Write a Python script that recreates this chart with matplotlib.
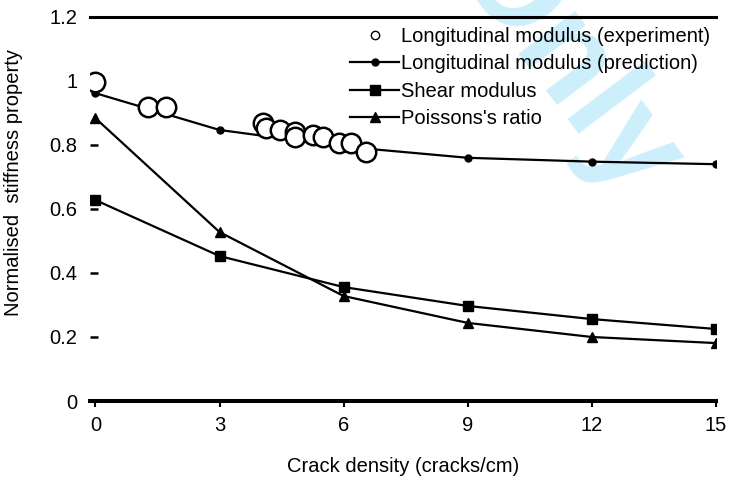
import numpy as np
import matplotlib
matplotlib.use('Agg')
import matplotlib.pyplot as plt

plt.rcParams['font.family'] = ['Liberation Sans', 'DejaVu Sans']

# crack density (cracks/cm) for the model predictions
crack_density = [0, 3, 6, 9, 12, 15]
long_pred = [0.962, 0.847, 0.795, 0.760, 0.748, 0.740]
shear_mod = [0.628, 0.453, 0.356, 0.297, 0.256, 0.225]
poisson = [0.884, 0.528, 0.328, 0.244, 0.200, 0.181]

# experimental longitudinal modulus
exp_x = [0.0, 1.28, 1.71, 4.05, 4.12, 4.46, 4.82, 4.82, 5.25, 5.5, 5.9, 6.19, 6.55]
exp_y = [0.998, 0.919, 0.919, 0.869, 0.853, 0.847, 0.840, 0.825, 0.831, 0.825, 0.806, 0.806, 0.778]

x_ticks = [0, 3, 6, 9, 12, 15]
y_ticks = [0, 0.2, 0.4, 0.6, 0.8, 1.0, 1.2]
y_tick_labels = ['0', '0.2', '0.4', '0.6', '0.8', '1', '1.2']

fs = 14.5

fig = plt.figure(figsize=(7.34, 4.86), dpi=100)
ax = fig.add_axes([90 / 734, 85 / 486, 626 / 734, 384 / 486])
ax.patch.set_visible(False)

ax.plot(exp_x, exp_y, linestyle='none', marker='o', markersize=14,
        markerfacecolor='white', markeredgecolor='black', markeredgewidth=1.8,
        zorder=4, label='Longitudinal modulus (experiment)')
ax.plot(crack_density, long_pred, color='black', linewidth=1.6, marker='o',
        markersize=5, zorder=3, label='Longitudinal modulus (prediction)')
ax.plot(crack_density, shear_mod, color='black', linewidth=1.6, marker='s',
        markersize=7, zorder=3, label='Shear modulus')
ax.plot(crack_density, poisson, color='black', linewidth=1.6, marker='^',
        markersize=7, zorder=3, label="Poissons's ratio")

ax.set_xlim(-0.13, 15)
ax.set_ylim(0, 1.2)
ax.set_xticks(x_ticks)
ax.set_yticks(y_ticks)
ax.set_yticklabels(y_tick_labels)

for side in ['left', 'right']:
    ax.spines[side].set_visible(False)
ax.spines['top'].set_linewidth(2.2)
ax.spines['bottom'].set_linewidth(2.9)

ax.tick_params(axis='y', direction='in', length=6, width=1.8, pad=9, labelsize=fs)
ax.tick_params(axis='x', direction='out', length=4.5, width=1.5, pad=6, labelsize=fs)

ax.set_xlabel('Crack density (cracks/cm)', fontsize=fs, labelpad=16)
ax.set_ylabel('Normalised  stiffness property', fontsize=fs)
ax.yaxis.set_label_coords(-0.107, 0.57)

leg = ax.legend(loc='upper left', bbox_to_anchor=(0.416, 0.974), frameon=False,
                fontsize=fs, handlelength=2.4, handletextpad=0.1,
                labelspacing=0.42, borderpad=0, borderaxespad=0)
leg.legend_handles[0].set_markersize(6)
leg.legend_handles[0].set_markeredgewidth(1.0)

# watermark
fig.text(565 / 734, 1 - 66 / 486, 'Only', fontsize=96, fontweight='bold',
         color='#cdeefb', rotation=-53, ha='center', va='center',
         rotation_mode='anchor', zorder=-1)

fig.savefig('out.png', dpi=100)
